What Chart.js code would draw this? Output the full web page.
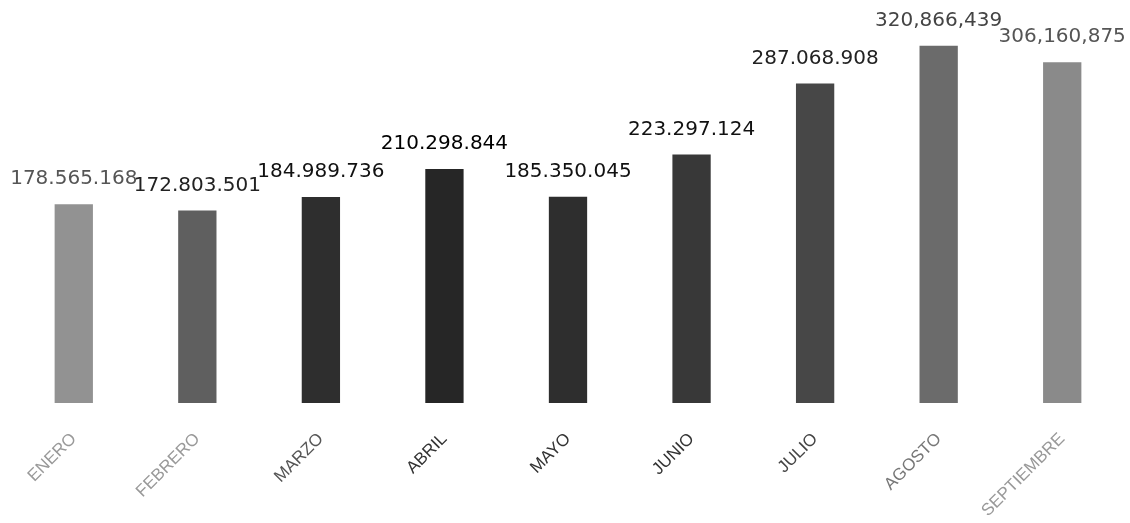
<!DOCTYPE html>
<html>
<head>
<meta charset="utf-8">
<script src="https://cdn.jsdelivr.net/npm/chart.js@4"></script>
<style>
  html, body { margin: 0; padding: 0; background: #fff; }
  #wrap { width: 1130px; height: 523px; }
</style>
</head>
<body>
<div id="wrap"><canvas id="ventasChart"></canvas></div>
<script>
  // datos
  const meses = ["ENERO", "FEBRERO", "MARZO", "ABRIL", "MAYO", "JUNIO", "JULIO", "AGOSTO", "SEPTIEMBRE"];
  const valores = [178565168, 172803501, 184989736, 210298844, 185350045, 223297124, 287068908, 320866439, 306160875];
  const etiquetas = ["178.565.168", "172.803.501", "184.989.736", "210.298.844", "185.350.045", "223.297.124", "287.068.908", "320,866,439", "306,160,875"];

  // tonos de gris (la imagen es un escaneo)
  const coloresBarra = ["#929292", "#5f5f5f", "#2e2e2e", "#262626", "#2e2e2e", "#383838", "#474747", "#6b6b6b", "#8a8a8a"];
  const coloresValor = ["#555", "#222", "#111", "#000", "#111", "#111", "#222", "#444", "#555"];
  const coloresMes = ["#999", "#999", "#555", "#333", "#333", "#333", "#444", "#777", "#999"];

  // dibuja el valor encima de cada barra
  const valorArriba = {
    id: 'valorArriba',
    afterDatasetsDraw(chart) {
      const ctx = chart.ctx;
      const meta = chart.getDatasetMeta(0);
      ctx.save();
      ctx.font = '20px "DejaVu Sans"';
      ctx.textAlign = 'center';
      ctx.textBaseline = 'bottom';
      meta.data.forEach((bar, i) => {
        ctx.fillStyle = coloresValor[i];
        ctx.fillText(etiquetas[i], bar.x, bar.y - 15);
      });
      ctx.restore();
    }
  };

  const ctx = document.getElementById('ventasChart').getContext('2d');
  const ventasChart = new Chart(ctx, {
    type: 'bar',
    data: {
      labels: meses,
      datasets: [{
        data: valores,
        backgroundColor: coloresBarra,
        borderWidth: 0,
        barPercentage: 0.31,
        categoryPercentage: 1
      }]
    },
    options: {
      responsive: true,
      maintainAspectRatio: false,
      animation: false,
      layout: { padding: { left: 12, right: 6, top: 0, bottom: 0 } },
      plugins: {
        legend: { display: false },
        tooltip: { enabled: false }
      },
      scales: {
        x: {
          grid: { display: false },
          border: { display: false },
          afterFit(scale) { scale.height = 120; },
          ticks: {
            minRotation: 45,
            maxRotation: 45,
            padding: 18,
            font: { family: 'Liberation Sans', size: 17 },
            color: (c) => coloresMes[c.index]
          }
        },
        y: {
          display: false,
          min: 0,
          max: 362000000
        }
      }
    },
    plugins: [valorArriba]
  });
</script>
</body>
</html>
